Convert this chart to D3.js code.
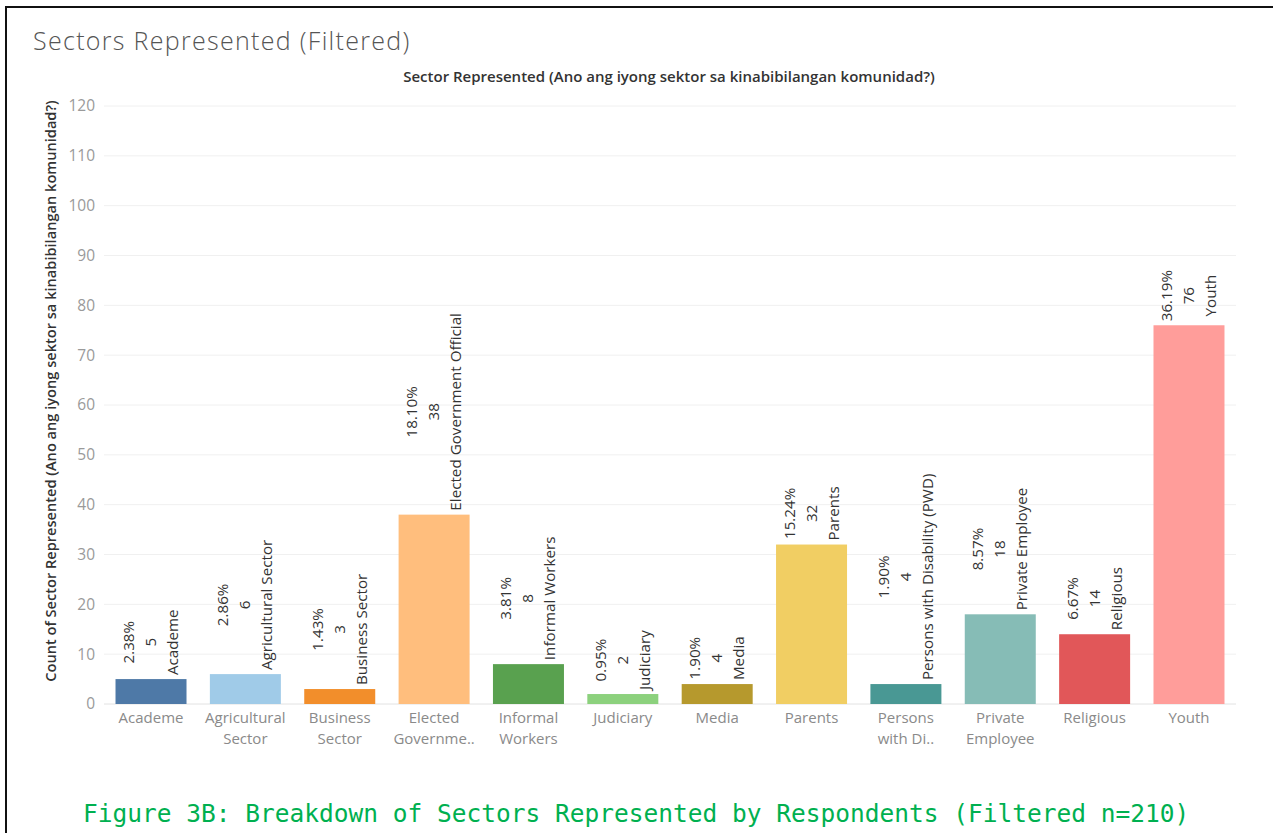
<!DOCTYPE html>
<html>
<head>
<meta charset="utf-8">
<script src="https://cdn.jsdelivr.net/npm/d3@7"></script>
<style>
  body { margin: 0; background: #fff; }
  svg { display: block; font-family: "Open Sans", sans-serif; }
</style>
</head>
<body>
<script>
// data
var sectors = ["Academe", "Agricultural Sector", "Business Sector", "Elected Government Official",
  "Informal Workers", "Judiciary", "Media", "Parents", "Persons with Disability (PWD)",
  "Private Employee", "Religious", "Youth"];
var tickLines = [["Academe"], ["Agricultural", "Sector"], ["Business", "Sector"], ["Elected", "Governme.."],
  ["Informal", "Workers"], ["Judiciary"], ["Media"], ["Parents"], ["Persons", "with Di.."],
  ["Private", "Employee"], ["Religious"], ["Youth"]];
var counts = [5, 6, 3, 38, 8, 2, 4, 32, 4, 18, 14, 76];
var percents = ["2.38%", "2.86%", "1.43%", "18.10%", "3.81%", "0.95%", "1.90%", "15.24%", "1.90%", "8.57%", "6.67%", "36.19%"];
var colors = ["#4e79a7", "#a0cbe8", "#f28e2b", "#ffbe7d", "#59a14f", "#8cd17d", "#b6992d", "#f1ce63",
  "#499894", "#86bcb6", "#e15759", "#ff9d9a"];
var yTicks = [0, 10, 20, 30, 40, 50, 60, 70, 80, 90, 100, 110, 120];

var W = 1273, H = 833;
var margin = {left: 104, right: 1236, top: 106, bottom: 704};

var svg = d3.select("body").append("svg")
    .attr("width", W)
    .attr("height", H);

// frame around the figure
svg.append("rect")
    .attr("x", 6).attr("y", 7)
    .attr("width", W + 20).attr("height", H + 20)
    .attr("fill", "none")
    .attr("stroke", "#111")
    .attr("stroke-width", 2);

svg.append("text")
    .attr("x", 33).attr("y", 50)
    .attr("font-size", 25)
    .attr("font-weight", 300)
    .attr("letter-spacing", 1.3)
    .attr("fill", "#555")
    .text("Sectors Represented (Filtered)");

svg.append("text")
    .attr("x", 669).attr("y", 82)
    .attr("text-anchor", "middle")
    .attr("font-size", 15)
    .attr("font-weight", 600)
    .attr("fill", "#333")
    .text("Sector Represented (Ano ang iyong sektor sa kinabibilangan komunidad?)");

var x = d3.scaleBand().domain(sectors).range([margin.left, margin.right]).paddingInner(0.2476).paddingOuter(0.122);
var y = d3.scaleLinear().domain([0, 120]).range([margin.bottom, margin.top]);

// gridlines
svg.append("g")
  .selectAll("line")
  .data(yTicks)
  .enter().append("line")
    .attr("x1", margin.left).attr("x2", margin.right)
    .attr("y1", function(d) { return y(d); })
    .attr("y2", function(d) { return y(d); })
    .attr("stroke", function(d) { return d == 0 ? "#e2e2e2" : "#f0f0f0"; })
    .attr("stroke-width", 1);

// y axis
var yAxis = svg.append("g")
    .attr("transform", "translate(" + margin.left + ",0)")
    .call(d3.axisLeft(y).tickValues(yTicks).tickSize(0).tickPadding(9));
yAxis.select(".domain").remove();
yAxis.selectAll("text")
    .attr("font-size", 15.5)
    .attr("fill", "#9a9a9a")
    .attr("font-family", "Open Sans, sans-serif");

svg.append("text")
    .attr("transform", "translate(56," + 391 + ") rotate(-90)")
    .attr("text-anchor", "middle")
    .attr("font-size", 14.6)
    .attr("font-weight", 600)
    .attr("fill", "#333")
    .text("Count of Sector Represented (Ano ang iyong sektor sa kinabibilangan komunidad?)");

// bars
svg.append("g")
  .selectAll("rect")
  .data(sectors)
  .enter().append("rect")
    .attr("x", function(d) { return x(d); })
    .attr("width", x.bandwidth())
    .attr("y", function(d, i) { return y(counts[i]); })
    .attr("height", function(d, i) { return y(0) - y(counts[i]); })
    .attr("fill", function(d, i) { return colors[i]; });

// x tick labels (wrapped)
var xt = svg.append("g")
  .selectAll("text")
  .data(sectors)
  .enter().append("text")
    .attr("text-anchor", "middle")
    .attr("font-size", 15)
    .attr("fill", "#8a8a8a")
    .attr("x", function(d) { return x(d) + x.bandwidth() / 2; })
    .attr("y", 723);
xt.each(function(d, i) {
  var t = d3.select(this);
  tickLines[i].forEach(function(s, j) {
    t.append("tspan")
        .attr("x", x(d) + x.bandwidth() / 2)
        .attr("dy", j == 0 ? 0 : 21)
        .text(s);
  });
});

// rotated mark labels: percent, count, name - centre aligned
var lab = svg.append("g")
  .selectAll("g")
  .data(sectors)
  .enter().append("g");
lab.each(function(d, i) {
  var g = d3.select(this);
  var cx = x(d) + x.bandwidth() / 2;
  var lines = [percents[i], String(counts[i]), d];
  var inner = g.append("g");
  var texts = lines.map(function(s, j) {
    return inner.append("text")
        .attr("text-anchor", "middle")
        .attr("font-size", 15.2)
        .attr("fill", "#333")
        .attr("x", 0)
        .attr("y", (j - 1) * 22 + 5)
        .text(s);
  });
  var maxW = d3.max(texts, function(t) { return t.node().getComputedTextLength(); });
  var cy = y(counts[i]) - 4 - maxW / 2;
  inner.attr("transform", "translate(" + cx + "," + cy + ") rotate(-90)");
});

svg.append("text")
    .attr("x", 83).attr("y", 822)
    .attr("font-family", "DejaVu Sans Mono, monospace")
    .attr("font-size", 24.5)
    .attr("fill", "#00b050")
    .text("Figure 3B: Breakdown of Sectors Represented by Respondents (Filtered n=210)");
</script>
</body>
</html>
